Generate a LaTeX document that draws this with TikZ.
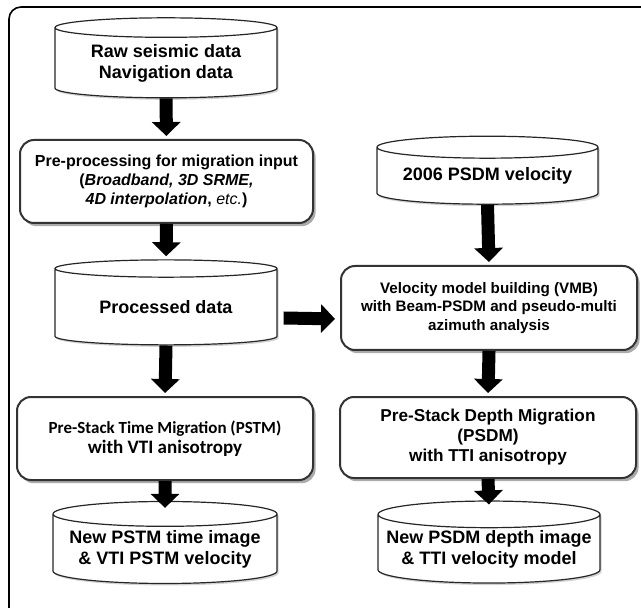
\documentclass[tikz,border=0pt]{standalone}
\usepackage{fontspec}
\setmainfont{Liberation Sans}
\newfontfamily\calibri{Carlito}
\usetikzlibrary{shapes.geometric,arrows.meta,shadows}

\tikzset{
  dbase/.style={cylinder, shape border rotate=90, aspect=0.13, draw=black!85,
    line width=0.6pt, fill=white, align=center, font=\bfseries\fontsize{9}{10.5}\selectfont,
    inner sep=0pt, drop shadow={shadow xshift=0.8pt, shadow yshift=-1pt, opacity=0.35}},
  procbox/.style={rectangle, rounded corners=7pt, draw=black!80, line width=1pt,
    fill=white, align=center, inner sep=2pt,
    drop shadow={shadow xshift=1.3pt, shadow yshift=-1.6pt, opacity=0.55, fill=black!60}},
  bigarrow/.style={line width=6.5pt, -{Triangle[width=14pt, length=7pt]}, shorten >=1.5pt}
}

\begin{document}
\begin{tikzpicture}[x=0.5pt, y=-0.5pt]
\useasboundingbox (0,0) rectangle (641,608);
\draw[rounded corners=6pt, line width=0.8pt] (9,700) rectangle (720,7);

% left column
\node[dbase, minimum width=111pt, minimum height=40pt] (raw) at (166,63)
  {Raw seismic data\\Navigation data};
\node[procbox, minimum width=146.5pt, minimum height=41.5pt,
  font=\bfseries\fontsize{8}{9.5}\selectfont] (prep) at (166.5,181.5)
  {Pre-processing for migration input\\(\textit{Broadband, 3D SRME,}\\
   \textit{4D interpolation}, \textmd{\textit{etc.}})};
\node[dbase, minimum width=111pt, minimum height=42.5pt] (proc) at (166,307)
  {Processed data};
\node[procbox, minimum width=148pt, minimum height=41.5pt,
  font=\calibri\bfseries\fontsize{8.5}{10}\selectfont] (pstm) at (165,438.5)
  {Pre-Stack Time Migration (PSTM)\\{\fontsize{9.5}{11}\selectfont with VTI anisotropy}};
\node[dbase, minimum width=112pt, minimum height=41pt] (newpstm) at (165,549)
  {New PSTM time image\\\& VTI PSTM velocity};

% right column
\node[dbase, minimum width=110.5pt, minimum height=34pt] (v2006) at (487.5,176)
  {2006 PSDM velocity};
\node[procbox, minimum width=148pt, minimum height=42pt,
  font=\bfseries\fontsize{7.6}{9.2}\selectfont] (vmb) at (489,308)
  {Velocity model building (VMB)\\with Beam-PSDM and pseudo-multi\\azimuth analysis};
\node[procbox, minimum width=148pt, minimum height=40.5pt,
  font=\bfseries\fontsize{8.6}{10}\selectfont] (psdm) at (488,437.5)
  {Pre-Stack Depth Migration\\(PSDM)\\with TTI anisotropy};
\node[dbase, minimum width=111pt, minimum height=41pt] (newpsdm) at (489,549)
  {New PSDM depth image\\\& TTI velocity model};

% arrows
\draw[bigarrow] (raw.south) -- (prep.north);
\draw[bigarrow] (prep.south) -- (proc.north);
\draw[bigarrow] (proc.south) -- (pstm.north);
\draw[bigarrow] (pstm.south) -- ([yshift=-5pt]newpstm.north);
\draw[bigarrow] (v2006.south) -- (vmb.north);
\draw[bigarrow] (vmb.south) -- (psdm.north);
\draw[bigarrow] (psdm.south) -- ([yshift=-3.5pt]newpsdm.north);
\draw[bigarrow, shorten >=2.5pt] ([xshift=3pt, yshift=-5.5pt]proc.east) -- ([yshift=-5.5pt]vmb.west);
\end{tikzpicture}
\end{document}
